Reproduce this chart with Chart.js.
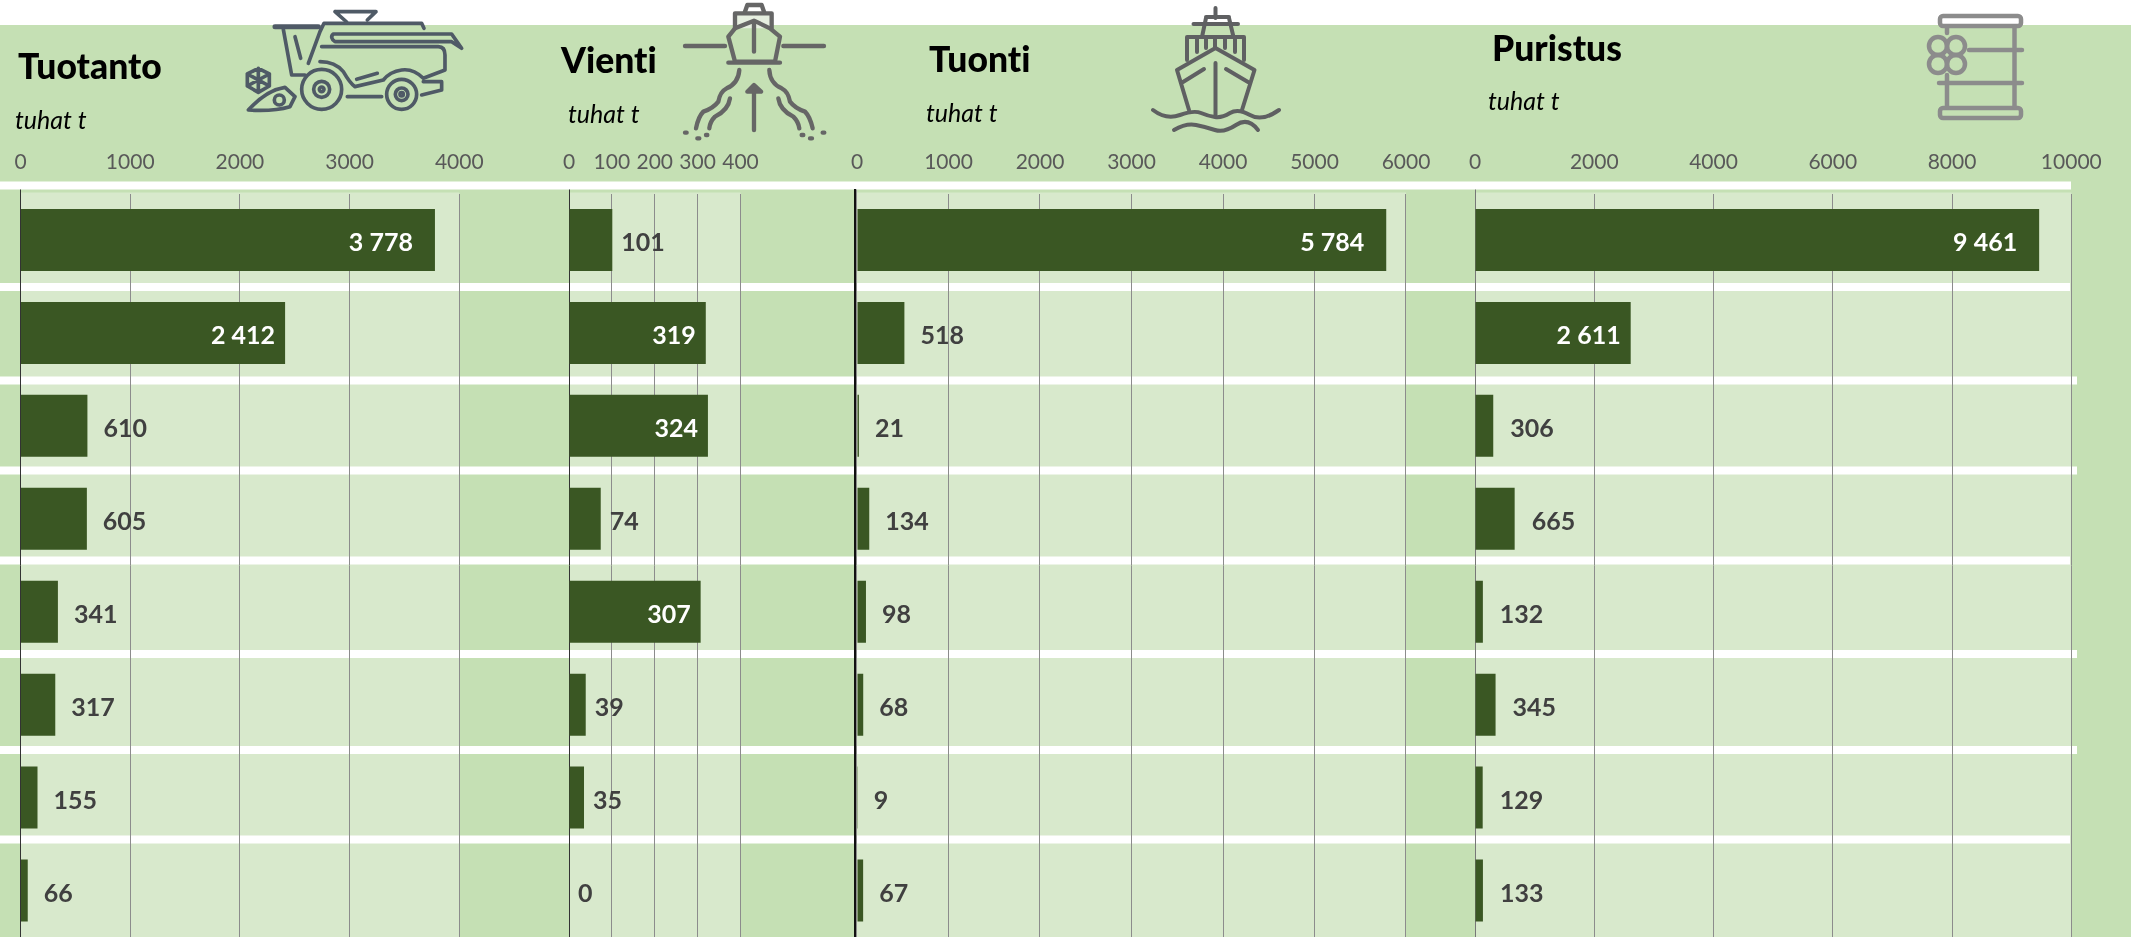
<!DOCTYPE html>
<html>
<head>
<meta charset="utf-8">
<style>
  html, body { margin: 0; padding: 0; background: #fff; }
  #wrap { position: relative; width: 2131px; height: 937px; overflow: hidden; }
  #green { position: absolute; left: 0; top: 25px; width: 2131px; height: 912px; background: #c5e0b4; }
  #myCanvas { position: absolute; left: 0; top: 0; }
  #icons { position: absolute; left: 0; top: 0; fill: none; stroke-linecap: round; stroke-linejoin: round; filter: blur(0.6px); }
</style>
</head>
<body>
<div id="wrap">
  <div id="green"></div>
  <canvas id="myCanvas" width="2131" height="937"></canvas>
  <svg id="icons" width="2131" height="937" viewBox="0 0 2131 937">
    <!-- combine -->
    <g transform="translate(240 0) scale(.3333)" stroke="#4f5a66" stroke-width="11">
      <path d="M285 35H408L382 60M285 35L320 66"/>
      <path d="M105 80H235" stroke-width="15"/>
      <path d="M130 88L155 225H195M165 110L182 175M240 95L252 70H545L552 85M240 95L205 190"/>
      <path d="M280 102H635L665 145L635 125H285Q268 112 280 102Z"/>
      <path d="M245 140H595Q615 140 615 165V210L550 235Q520 205 485 210Q450 215 430 240L345 260Q330 250 310 215Q285 185 240 185M350 238L412 220"/>
      <circle cx="245" cy="268" r="60"/><circle cx="245" cy="268" r="24"/><circle cx="245" cy="268" r="7"/>
      <circle cx="485" cy="283" r="45"/><circle cx="485" cy="283" r="19"/><circle cx="485" cy="283" r="5"/>
      <path d="M322 290H425M550 245H605V270L545 285"/>
      <path d="M55 205L88 222V258L55 277L22 258V222ZM55 205V277M22 222L88 258M88 222L22 258"/>
      <path d="M25 330Q80 270 135 262L165 290L150 320Q100 335 25 330Z"/><circle cx="118" cy="300" r="15"/>
    </g>
    <!-- export ship -->
    <g transform="translate(670 0) scale(.3333)" stroke="#666" stroke-width="13">
      <path d="M45 138H165M340 138H462"/>
      <path d="M195 85V40H305V85" fill="#e6efe0"/>
      <path d="M175 110L195 185H315L330 110L300 85L252 62L195 85Z"/>
      <path d="M175 188H330M252 155V70M225 35L232 15H275L282 35"/>
      <path d="M208 210Q205 250 170 265Q150 275 145 305Q130 325 100 335Q85 350 78 385M180 295Q175 330 135 350Q120 365 118 385"/>
      <path d="M298 210Q300 250 335 265Q355 275 360 305Q375 325 405 335Q420 350 428 385M325 295Q330 330 370 350Q385 365 388 385"/>
      <path d="M45 398H50M82 415H88M108 405H112M395 405H400M420 415H426M458 398H463"/>
      <path d="M252 390V265"/><path d="M232 275L252 255L273 275Z" fill="#666"/>
    </g>
    <!-- import ship -->
    <g stroke="#5f6062" stroke-width="4">
      <path d="M1215.5 8V18M1206 17H1229M1193.5 24H1238M1206 18L1202 37M1229 18L1233.5 37"/>
      <path d="M1187 60V37H1244V60M1197 39V52M1206 39V48M1215 39V48M1225 39V48M1235 39V52"/>
      <path d="M1177 70L1215.5 48L1254.5 70L1242 110M1177 70L1189 110M1215.5 63V115M1183 82L1204 69M1248 82L1226 69"/>
      <path d="M1153 110Q1166 120 1180 115T1201 113T1215 117T1230 113T1250 115T1279 110"/>
      <path d="M1174 130Q1186 123 1196 125T1215 130T1236 125T1258 130"/>
    </g>
    <!-- barrel -->
    <g stroke="#8c8c8c" stroke-width="4.5">
      <rect x="1940" y="16" width="81" height="10" rx="3" fill="#fff"/>
      <rect x="1940" y="108" width="81" height="10" rx="3"/>
      <path d="M2014.5 27V107M1947 27V33M1947 75V107M1969 50H2022M1939 83H2022"/>
      <circle cx="1938" cy="46" r="9"/><circle cx="1956" cy="46" r="9"/>
      <circle cx="1938" cy="64" r="9"/><circle cx="1956" cy="64" r="9"/>
    </g>
  </svg>
</div>

<script src="https://cdn.jsdelivr.net/npm/chart.js@4/dist/chart.umd.min.js"></script>
<script>
const rows = ["1", "2", "3", "4", "5", "6", "7", "8"];

const tuotanto = [3778, 2412, 610, 605, 341, 317, 155, 66];
const vienti = [101, 319, 324, 74, 307, 39, 35, 0];
const tuonti = [5784, 518, 21, 134, 98, 68, 9, 67];
const puristus = [9461, 2611, 306, 665, 132, 345, 129, 133];

const tuotantoTicks = [0, 1000, 2000, 3000, 4000];
const vientiTicks = [0, 100, 200, 300, 400];
const tuontiTicks = [0, 1000, 2000, 3000, 4000, 5000, 6000];
const puristusTicks = [0, 2000, 4000, 6000, 8000, 10000];

// where each panel sits on the page: zero pixel, pixels per unit
const panels = [
  { id: "x1", values: tuotanto, ticks: tuotantoTicks, zero: 20.5, ppu: 0.1097, gap: 16, zeroColor: "#333" },
  { id: "x2", values: vienti, ticks: vientiTicks, zero: 569, ppu: 0.4288, gap: 9, zeroColor: "#333" },
  { id: "x3", values: tuonti, ticks: tuontiTicks, zero: 857, ppu: 0.0915, gap: 16, zeroColor: "#8c8c8c" },
  { id: "x4", values: puristus, ticks: puristusTicks, zero: 1475, ppu: 0.05963, gap: 17, zeroColor: "#777" },
];

const titles = [
  { text: "Tuotanto", x: 18, y: 79 },
  { text: "Vienti", x: 561, y: 72.5 },
  { text: "Tuonti", x: 929, y: 71.5 },
  { text: "Puristus", x: 1492, y: 61 },
];
const units = [
  { text: "tuhat t", x: 15, y: 129 },
  { text: "tuhat t", x: 568, y: 122.5 },
  { text: "tuhat t", x: 926, y: 121.5 },
  { text: "tuhat t", x: 1488, y: 110 },
];

// white strips between the rows: top, bottom, right end
const strips = [
  [181.5, 189.5, 2071], [283, 291, 2070], [376.5, 384.5, 2077], [466.5, 474.5, 2077],
  [556.5, 564.5, 2070], [650, 658, 2077], [746, 754, 2077], [835.5, 843.5, 2070],
];

const LIGHT = "#d8e9cc";
const BAR = "#3a5723";

const fmt = (v) => String(v).replace(/\B(?=(\d{3})+$)/g, " ");

const backdrop = {
  id: "backdrop",
  afterLayout(chart) {
    // axes have no height of their own, but the labels are clipped to the box
    panels.forEach((p) => {
      chart.scales[p.id].top = 130;
    });
  },
  beforeDraw(chart) {
    const { ctx, chartArea } = chart;
    ctx.save();
    panels.forEach((p) => {
      const s = chart.scales[p.id];
      const left = s.getPixelForValue(0);
      const right = s.getPixelForValue(p.ticks[p.ticks.length - 1]);
      ctx.fillStyle = LIGHT;
      ctx.fillRect(left, chartArea.top - 1, right - left, chartArea.bottom - chartArea.top + 1);
    });
    ctx.fillStyle = "#fff";
    strips.forEach(([top, bottom, end]) => ctx.fillRect(0, top, end, bottom - top));
    ctx.restore();
  },
};

const texts = {
  id: "texts",
  afterDraw(chart) {
    const { ctx, chartArea } = chart;
    ctx.save();
    // black rule just left of the Tuonti axis
    const tuontiZero = chart.scales.x3.getPixelForValue(0);
    ctx.fillStyle = "#111";
    ctx.fillRect(tuontiZero - 3, 189, 2, chartArea.bottom - 189);
    ctx.textBaseline = "alphabetic";
    ctx.textAlign = "left";
    ctx.textRendering = "optimizeSpeed";
    ctx.fillStyle = "#000";
    ctx.font = "900 35.5px Lato";
    titles.forEach((t) => ctx.fillText(t.text, t.x, t.y));
    ctx.font = "italic 25px Lato";
    units.forEach((t) => ctx.fillText(t.text, t.x, t.y));
    ctx.restore();
  },
};

const barLabels = {
  id: "barLabels",
  afterDatasetsDraw(chart) {
    const { ctx } = chart;
    ctx.save();
    ctx.font = "bold 25px Lato";
    ctx.textBaseline = "middle";
    chart.data.datasets.forEach((ds, i) => {
      chart.getDatasetMeta(i).data.forEach((bar, j) => {
        const width = bar.x - bar.base;
        const inside = width > 100;
        ctx.fillStyle = inside ? "#fff" : "#404040";
        ctx.textAlign = inside ? "right" : "left";
        const x = inside ? bar.x - (width > 300 ? 22 : 10) : bar.x + panels[i].gap;
        ctx.fillText(fmt(ds.data[j]), x, bar.y + 3);
      });
    });
    ctx.restore();
  },
};

const scales = {
  y: {
    type: "category",
    display: false,
    grid: { display: false },
  },
};
panels.forEach((p) => {
  scales[p.id] = {
    type: "linear",
    position: "top",
    min: -p.zero / p.ppu,
    max: (2131 - p.zero) / p.ppu,
    afterBuildTicks: (axis) => {
      axis.ticks = p.ticks.map((value) => ({ value }));
    },
    afterFit: (axis) => {
      axis.height = 0;
      axis.paddingLeft = 0;
      axis.paddingRight = 0;
    },
    border: { display: false },
    grid: {
      color: (c) => (c.tick.value === 0 ? p.zeroColor : "#8c8c8c"),
      lineWidth: 1,
      tickColor: (c) => (c.tick.value === 0 ? p.zeroColor : "rgba(0,0,0,0)"),
      tickLength: 4,
    },
    ticks: {
      autoSkip: false,
      maxRotation: 0,
      padding: 15,
      color: "#595959",
      font: { family: "Lato", size: 21 },
      callback: (v) => String(v),
    },
  };
});

new Chart(document.getElementById("myCanvas"), {
  type: "bar",
  plugins: [backdrop, barLabels, texts],
  data: {
    labels: rows,
    datasets: panels.map((p) => ({
      data: p.values,
      xAxisID: p.id,
      yAxisID: "y",
      backgroundColor: BAR,
      borderWidth: 0,
      grouped: false,
      barPercentage: 1,
      categoryPercentage: 0.667,
    })),
  },
  options: {
    indexAxis: "y",
    responsive: false,
    animation: false,
    layout: { padding: { top: 193.5, left: 0, right: 0, bottom: 0 } },
    plugins: {
      legend: { display: false },
      title: { display: false },
      tooltip: { enabled: false },
    },
    scales,
  },
});
</script>
</body>
</html>
